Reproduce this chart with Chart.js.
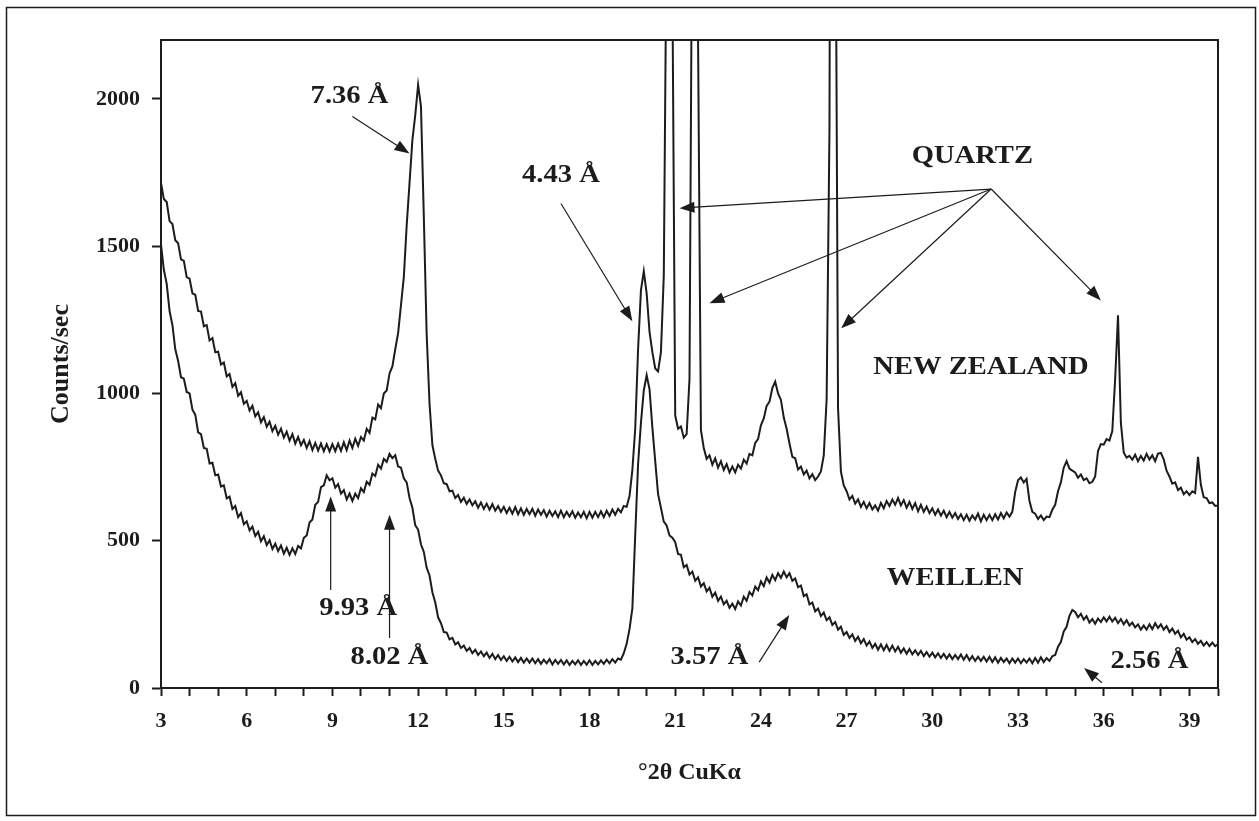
<!DOCTYPE html>
<html>
<head>
<meta charset="utf-8">
<script src="https://cdn.jsdelivr.net/npm/chart.js@4.4.1/dist/chart.umd.min.js"></script>
<style>
  html, body { margin: 0; padding: 0; background: #fff; }
  #wrap { width: 1259px; height: 821px; position: relative; }
</style>
</head>
<body>
<div id="wrap"><canvas id="xrd" width="1259" height="821"></canvas></div>
<script>
// scan grid (degrees 2-theta)
const scanStart = 3.0;
const scanStep = 0.1;

// counts/sec, one row per degree (3.0 ... 39.9, then 40.0)
const newZealandCounts = [
  1715, 1660, 1650, 1585, 1575, 1520, 1510, 1455, 1450, 1395,
  1390, 1340, 1335, 1280, 1278, 1228, 1232, 1180, 1188, 1140,
  1142, 1098, 1105, 1058, 1066, 1022, 1035, 992, 1004, 965,
  975, 942, 958, 922, 936, 902, 920, 887, 904, 872,
  890, 860, 880, 850, 870, 840, 862, 830, 852, 824,
  842, 815, 838, 808, 832, 806, 830, 804, 828, 803,
  828, 804, 830, 805, 834, 808, 840, 815, 846, 822,
  852, 840, 880, 866, 918, 912, 962, 950, 1000, 1010,
  1068, 1092, 1150, 1205, 1300, 1395, 1570, 1715, 1860, 1945,
  2048, 1975, 1600, 1200, 965, 825, 778, 738, 722, 695,
  692, 668, 670, 645, 655, 632, 646, 625, 640, 620,
  634, 612, 630, 608, 626, 605, 624, 602, 618, 598,
  615, 594, 612, 592, 614, 590, 610, 588, 608, 590,
  608, 585, 606, 588, 604, 582, 602, 584, 600, 580,
  602, 580, 598, 582, 600, 578, 596, 580, 598, 576,
  598, 578, 598, 580, 600, 580, 602, 584, 606, 588,
  608, 596, 618, 615, 652, 740, 880, 1150, 1350, 1415,
  1340, 1210, 1140, 1085, 1075, 1140, 1400, 2600, 6000, 2400,
  925, 880, 888, 850, 862, 1050, 2800, 6000, 2200, 875,
  815, 778, 790, 758, 780, 748, 770, 740, 760, 732,
  752, 732, 758, 745, 775, 762, 795, 790, 832, 845,
  892, 915, 958, 972, 1018, 1040, 1000, 978, 918, 880,
  830, 785, 780, 742, 752, 725, 738, 712, 726, 706,
  718, 735, 790, 980, 1900, 6000, 3000, 950, 735, 688,
  668, 640, 652, 626, 640, 615, 632, 610, 628, 606,
  620, 602, 628, 610, 635, 618, 640, 622, 645, 620,
  638, 612, 632, 608, 628, 600, 622, 598, 616, 594,
  610, 588, 606, 585, 602, 580, 598, 578, 594, 574,
  590, 570, 588, 568, 586, 572, 592, 566, 588, 570,
  588, 570, 590, 572, 594, 576, 596, 582, 598, 665,
  705, 715, 698, 710, 635, 598, 592, 574, 586, 570,
  582, 580, 605, 622, 668, 698, 748, 770, 745, 738,
  732, 714, 725, 706, 712, 695, 700, 718, 805, 828,
  826, 845, 840, 872, 1050, 1265, 900, 800, 782, 788,
  775, 792, 770, 788, 772, 795, 776, 790, 770, 796,
  798, 776, 738, 718, 694, 698, 672, 680, 658, 668,
  655, 668, 662, 785, 690, 648, 645, 628, 630, 618,
  620
];

const weillenCounts = [
  1505, 1420, 1372, 1280, 1232, 1150, 1110, 1055, 1050, 1005,
  1000, 945, 928, 868, 862, 815, 812, 762, 765, 722,
  725, 684, 688, 644, 650, 608, 618, 580, 594, 556,
  566, 535, 548, 516, 530, 498, 515, 485, 502, 472,
  490, 465, 484, 456, 476, 452, 474, 455, 482, 474,
  510, 518, 562, 572, 622, 632, 682, 688, 722, 705,
  712, 680, 692, 660, 672, 640, 660, 635, 660, 645,
  678, 665, 700, 690, 728, 720, 758, 745, 778, 768,
  795, 780, 790, 752, 748, 712, 698, 645, 612, 552,
  538, 488, 462, 408, 382, 325, 290, 240, 220, 190,
  188, 165, 170, 148, 155, 136, 144, 126, 136, 118,
  130, 112, 124, 108, 120, 102, 116, 98, 112, 95,
  108, 92, 106, 90, 104, 88, 102, 86, 100, 86,
  100, 84, 98, 82, 96, 84, 98, 80, 95, 82,
  95, 80, 94, 78, 92, 80, 94, 78, 92, 79,
  94, 78, 92, 80, 94, 82, 96, 84, 98, 86,
  100, 96, 118, 150, 200, 270, 520, 760, 900, 1010,
  1062, 1015, 885, 770, 658, 612, 565, 552, 518, 510,
  495, 455, 452, 410, 418, 385, 395, 364, 376, 345,
  356, 328, 340, 310, 324, 296, 310, 284, 296, 272,
  286, 268, 294, 280, 310, 296, 326, 314, 344, 332,
  362, 346, 375, 358, 384, 366, 390, 374, 395, 376,
  390, 364, 372, 342, 348, 312, 318, 284, 290, 260,
  270, 244, 256, 230, 240, 214, 224, 198, 208, 180,
  190, 170, 182, 160, 174, 152, 166, 144, 158, 136,
  150, 130, 148, 128, 146, 126, 144, 124, 140, 120,
  134, 116, 132, 114, 128, 112, 126, 108, 122, 106,
  120, 104, 118, 102, 116, 100, 114, 98, 112, 98,
  114, 96, 112, 94, 108, 92, 106, 92, 106, 90,
  106, 88, 104, 86, 102, 88, 100, 84, 100, 86,
  100, 84, 98, 86, 100, 84, 102, 86, 104, 88,
  102, 92, 108, 112, 140, 156, 192, 208, 245, 265,
  258, 240, 252, 232, 244, 222, 234, 218, 236, 224,
  240, 226, 242, 226, 238, 220, 234, 216, 230, 212,
  222, 206, 216, 198, 212, 198, 216, 200, 220, 204,
  216, 198, 210, 190, 202, 184, 194, 172, 184, 164,
  172, 156, 166, 150, 160, 144, 156, 142, 154, 142,
  148
];

const xTickLabels = [3, 6, 9, 12, 15, 18, 21, 24, 27, 30, 33, 36, 39];
const yTickLabels = [0, 500, 1000, 1500, 2000];

// text notes, in data units (deg, counts)
const noteTexts = ['7.36 Å', '4.43 Å', 'QUARTZ', 'NEW ZEALAND', 'WEILLEN', '9.93 Å', '8.02 Å', '3.57 Å', '2.56 Å'];
const noteX = [9.6, 17.0, 31.4, 31.7, 30.8, 9.9, 11.0, 22.2, 37.6];
const noteY = [2010, 1740, 1805, 1088, 372, 272, 105, 105, 90];

// arrows: from -> to (head at "to")
const arrowFrom = [[9.7, 1940], [17.0, 1645], [32.06, 1694], [32.06, 1694], [32.06, 1694], [32.06, 1694], [8.94, 333], [11.0, 170], [23.94, 88], [35.94, 18]];
const arrowTo = [[11.7, 1815], [19.5, 1245], [21.15, 1629], [22.2, 1306], [26.81, 1221], [35.9, 1316], [8.94, 650], [11.0, 588], [24.99, 248], [35.31, 68]];

function toPoints(counts) {
  return counts.map((c, i) => ({ x: +(scanStart + i * scanStep).toFixed(1), y: c }));
}

const ink = '#1c1c1c';
const serif = '"Liberation Serif", "Times New Roman", serif';

const decorations = {
  id: 'decorations',
  afterDatasetsDraw(chart) {
    const ctx = chart.ctx;
    const xs = chart.scales.x, ys = chart.scales.y;
    const a = chart.chartArea;
    ctx.save();
    // frame round the plot
    ctx.strokeStyle = ink;
    ctx.lineWidth = 2;
    ctx.strokeRect(a.left, a.top, a.right - a.left, a.bottom - a.top);
    // page border
    ctx.lineWidth = 1.5;
    ctx.strokeRect(6.5, 7.5, 1249, 808);

    // arrows
    ctx.lineWidth = 1.2;
    ctx.fillStyle = ink;
    for (let i = 0; i < arrowFrom.length; i++) {
      const x1 = xs.getPixelForValue(arrowFrom[i][0]), y1 = ys.getPixelForValue(arrowFrom[i][1]);
      const x2 = xs.getPixelForValue(arrowTo[i][0]), y2 = ys.getPixelForValue(arrowTo[i][1]);
      const ang = Math.atan2(y2 - y1, x2 - x1);
      const len = 15, half = 5.5;
      ctx.beginPath();
      ctx.moveTo(x1, y1);
      ctx.lineTo(x2 - Math.cos(ang) * len * 0.8, y2 - Math.sin(ang) * len * 0.8);
      ctx.stroke();
      ctx.beginPath();
      ctx.moveTo(x2, y2);
      ctx.lineTo(x2 - Math.cos(ang) * len - Math.sin(ang) * half, y2 - Math.sin(ang) * len + Math.cos(ang) * half);
      ctx.lineTo(x2 - Math.cos(ang) * len + Math.sin(ang) * half, y2 - Math.sin(ang) * len - Math.cos(ang) * half);
      ctx.closePath();
      ctx.fill();
    }

    // labels
    ctx.font = 'bold 26px ' + serif;
    ctx.textAlign = 'center';
    ctx.textBaseline = 'middle';
    for (let i = 0; i < noteTexts.length; i++) {
      const px = xs.getPixelForValue(noteX[i]), py = ys.getPixelForValue(noteY[i]);
      ctx.save();
      ctx.translate(px, py);
      ctx.scale(1.1, 1);
      ctx.fillText(noteTexts[i], 0, 0);
      ctx.restore();
    }
    ctx.restore();
  }
};

new Chart(document.getElementById('xrd'), {
  type: 'line',
  data: {
    datasets: [
      { label: 'New Zealand', data: toPoints(newZealandCounts), borderColor: ink, borderWidth: 2, pointRadius: 0, tension: 0 },
      { label: 'Weillen', data: toPoints(weillenCounts), borderColor: ink, borderWidth: 2, pointRadius: 0, tension: 0 }
    ]
  },
  options: {
    responsive: false,
    devicePixelRatio: 1,
    animation: false,
    layout: { padding: { top: 40, right: 41, left: 0, bottom: 0 } },
    plugins: { legend: { display: false }, tooltip: { enabled: false } },
    scales: {
      x: {
        type: 'linear',
        min: 3,
        max: 40,
        afterFit(scale) { scale.height = 133; },
        afterBuildTicks(scale) {
          const t = [];
          for (let v = 3; v <= 40; v++) t.push({ value: v });
          scale.ticks = t;
        },
        ticks: {
          autoSkip: false,
          maxRotation: 0,
          padding: 12,
          color: ink,
          font: { family: serif, size: 22, weight: 'bold' },
          callback: (v) => xTickLabels.includes(v) ? String(v) : ''
        },
        grid: { drawOnChartArea: false, tickLength: 8, tickColor: ink, tickWidth: 2 },
        border: { color: ink, width: 2 },
        title: {
          display: true,
          text: '°2θ CuKα',
          color: ink,
          font: { family: serif, size: 24, weight: 'bold' },
          padding: { top: 0, bottom: 34 }
        }
      },
      y: {
        min: 0,
        max: 2200,
        afterFit(scale) { scale.width = 161; },
        afterBuildTicks(scale) { scale.ticks = yTickLabels.map(v => ({ value: v })); },
        ticks: {
          padding: 12,
          color: ink,
          font: { family: serif, size: 22, weight: 'bold' },
          callback: (v) => String(v)
        },
        grid: { drawOnChartArea: false, tickLength: 9, tickColor: ink, tickWidth: 2 },
        border: { color: ink, width: 2 },
        title: {
          display: true,
          text: 'Counts/sec',
          color: ink,
          font: { family: serif, size: 26, weight: 'bold' },
          padding: { top: 46, bottom: 0 }
        }
      }
    }
  },
  plugins: [decorations]
});
</script>
</body>
</html>
